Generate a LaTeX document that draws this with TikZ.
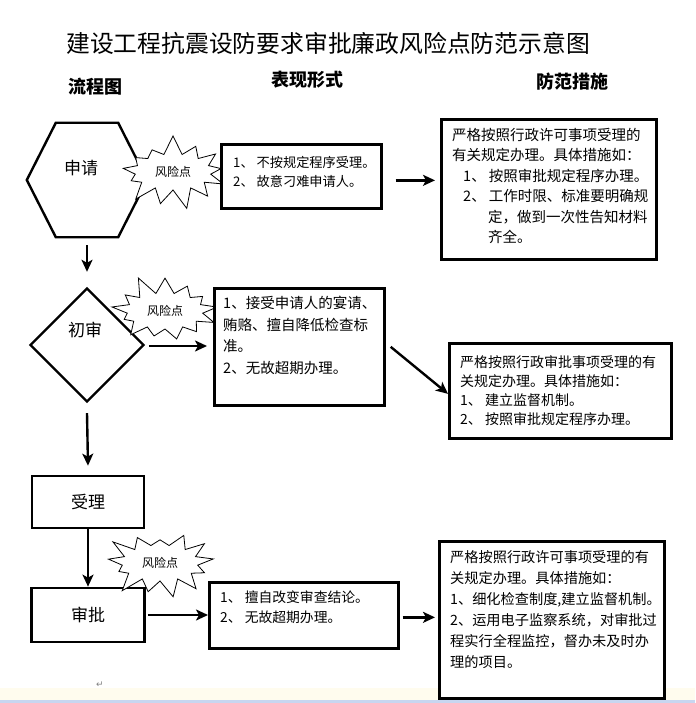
\documentclass[tikz,border=0pt]{standalone}
\usepackage{fontspec}
\setmainfont{Noto Sans CJK SC}
\newfontfamily\symfont{DejaVu Sans}
\usetikzlibrary{shapes.geometric,shapes.symbols,calc,arrows.meta}
\definecolor{cream}{RGB}{255,252,238}
\definecolor{bandblue}{RGB}{200,214,240}
\begin{document}
\begin{tikzpicture}[x=1pt,y=-1pt,
  box/.style={draw, line width=2.7pt, fill=white, inner sep=0pt},
  txt/.style={align=left, inner sep=0pt, anchor=north west, font=\fontsize{14.5}{20.5}\selectfont},
  frame/.style={line width=2.4pt, line join=miter},
  arr/.style={line width=2.4pt, -{Stealth[length=12pt,width=11pt,inset=3pt]}},
  risk/.style={starburst, draw, line width=0.8pt, fill=white, starburst points=13,
    starburst point height=20pt, minimum width=116pt, minimum height=76pt, inner sep=1pt,
    font=\fontsize{12}{12}\selectfont},
  lbl/.style={font=\fontsize{17}{17}\selectfont},
  head/.style={font=\fontsize{18}{18}\selectfont\bfseries, anchor=west}]
\useasboundingbox (0,0) rectangle (695,703);
\fill[white] (0,0) rectangle (695,703);
\fill[cream] (0,688) rectangle (695,700);
\fill[bandblue] (0,700) rectangle (695,703);

% title and headers
\node[font=\fontsize{23.8}{24}\selectfont, anchor=west, inner sep=0] (title) at (66,43) {建设工程抗震设防要求审批廉政风险点防范示意图};
\node[head] (hflow) at (65,87) {流程图};
\node[head] (hform) at (268,80) {表现形式};
\node[head] (hmeas) at (533,82) {防范措施};

% hexagon 申请
\node[minimum width=120pt, minimum height=114pt, inner sep=0] (h) at (87,180) {};
\draw[frame] (h.west) -- ($(h.north west)+(29,0)$) -- ($(h.north east)+(-29,0)$) -- (h.east)
  -- ($(h.south east)+(-29,0)$) -- ($(h.south west)+(29,0)$) -- cycle;
\node[lbl] (hl) at (81,168) {申请};

\node[risk, random starburst=7] (s1) at (173,172) {风险点};

\node[box, minimum width=160pt, minimum height=64pt, anchor=north west] (b1) at (220,143) {};
\node[txt, font=\fontsize{13.2}{19.5}\selectfont] (b1t) at (233,156) {1、 不按规定程序受理。\\2、 故意刁难申请人。};

\node[box, minimum width=215pt, minimum height=140pt, anchor=north west] (r1) at (440,118) {};
\node[txt] (r1t) at (452,128) {严格按照行政许可事项受理的\\有关规定办理。具体措施如：\\\hspace*{11pt}1、 按照审批规定程序办理。\\\hspace*{11pt}2、 工作时限、标准要明确规\\\hspace*{36pt}定，做到一次性告知材料\\\hspace*{36pt}齐全。};

\draw[arr] ($(b1.east)+(13,4)$) -- ($(r1.west |- b1.east)+(-5,4)$);

% diamond 初审
\node[diamond, draw, line width=2.4pt, fill=white, minimum width=114pt, minimum height=114pt, inner sep=0] (d) at (87,345) {};
\node[lbl] (dl) at (85,330) {初审};
\draw[arr] ($(h.south)+(0,8)$) -- ($(d.north)+(0,-15)$);

\node[risk, random starburst=11] (s2) at (165,311) {风险点};

\node[box, minimum width=170pt, minimum height=117pt, anchor=north west] (b2) at (213,287) {};
\node[txt, font=\fontsize{14.5}{21.6}\selectfont] (b2t) at (223,296) {1、接受申请人的宴请、\\贿赂、擅自降低检查标\\准。\\2、无故超期办理。};
\draw[arr] ($(d.east)+(4,1)$) -- ($(b2.west |- d.east)+(-6,1)$);

\node[box, minimum width=222pt, minimum height=95pt, anchor=north west] (r2) at (448,342) {};
\node[txt, font=\fontsize{14}{19.2}\selectfont] (r2t) at (460,355) {严格按照行政审批事项受理的有\\关规定办理。具体措施如：\\1、 建立监督机制。\\2、 按照审批规定程序办理。};
\draw[arr] ($(b2.east)+(5,0)$) -- ($(r2.west)+(0,3)$);

% 受理 and 审批
\node[box, lbl, minimum width=112pt, minimum height=52pt] (q) at (88,502) {受理};
\draw[arr] ($(d.south)+(0,10)$) -- ($(q.north)+(0,-9)$);
\node[box, lbl, minimum width=113pt, minimum height=54pt] (sp) at (88,615) {审批};
\draw[arr] (q.south) -- (sp.north);

\node[risk, random starburst=23] (s3) at (160,563) {风险点};

\node[box, minimum width=189pt, minimum height=66pt, anchor=north west] (b4) at (208,581) {};
\node[txt, font=\fontsize{13.8}{20}\selectfont] (b4t) at (220,591) {1、 擅自改变审查结论。\\2、 无故超期办理。};
\draw[arr] ($(sp.east)+(2,0)$) -- (b4.west |- sp.east);

\node[box, minimum width=225pt, minimum height=157pt, anchor=north west] (r4) at (438,540) {};
\node[txt, font=\fontsize{14.2}{21}\selectfont] (r4t) at (450,550) {严格按照行政许可事项受理的有\\关规定办理。具体措施如：\\1、细化检查制度,建立监督机制。\\2、运用电子监察系统，对审批过\\程实行全程监控，督办未及时办\\理的项目。};
\draw[arr] ($(b4.east)+(3,2)$) -- ($(r4.west |- b4.east)+(-3,2)$);

\node[font=\symfont\fontsize{9}{9}\selectfont, text=gray] (ret) at (100,685) {↵};
\end{tikzpicture}
\end{document}
